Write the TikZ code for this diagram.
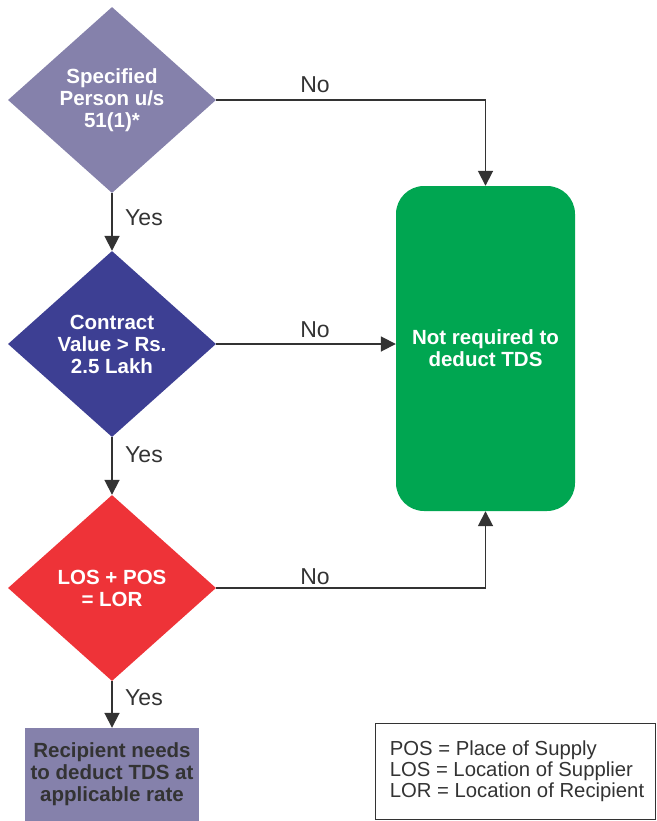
\documentclass[tikz,border=0pt]{standalone}
\usepackage{fontspec}
\setmainfont{Liberation Sans}
\usetikzlibrary{shapes.geometric,arrows.meta}
\definecolor{lav}{HTML}{8581AB}
\definecolor{navy}{HTML}{3D3F93}
\definecolor{redd}{HTML}{EE3338}
\definecolor{grn}{HTML}{00A651}
\definecolor{ink}{HTML}{333333}
\begin{document}
\begin{tikzpicture}[x=1pt,y=-1pt,
  decision/.style={diamond, aspect=1.118, minimum width=208pt, minimum height=186pt,
    inner sep=0pt, text=white, align=center,
    font=\fontsize{20.5}{22}\selectfont\bfseries},
  endbox/.style={inner sep=0pt, align=center, font=\fontsize{20.5}{22}\selectfont\bfseries},
  flow/.style={draw=ink, line width=1.8pt, -{Triangle[width=15pt,length=15pt]}},
  lbl/.style={font=\fontsize{23}{25}\selectfont, text=ink, inner sep=0pt}]
\useasboundingbox (0,0) rectangle (656,821);

% decisions
\node[decision, fill=lav]  (d1) at (112,100) {Specified\\Person u/s\\51(1)*};
\node[decision, fill=navy] (d2) at (112,344) {Contract\\Value > Rs.\\2.5 Lakh};
\node[decision, fill=redd] (d3) at (112,588) {LOS + POS\\= LOR};

% outcomes
\node[endbox, fill=grn, text=white, rounded corners=28pt,
      minimum width=179pt, minimum height=325pt] (nr) at (485.5,348.5)
      {Not required to\\deduct TDS};
\node[endbox, fill=lav, text=ink, minimum width=174pt, minimum height=93pt]
      (rc) at (112,774.5) {Recipient needs\\to deduct TDS at\\applicable rate};

% legend
\node[draw=ink, line width=0.9pt, minimum width=280pt, minimum height=96pt] (lg) at (515,771) {};
\node[anchor=west, align=left, inner sep=0pt, text=ink,
      font=\fontsize{20.3}{21}\selectfont] (lgt) at ([xshift=15pt]lg.west)
      {POS = Place of Supply\\LOS = Location of Supplier\\LOR = Location of Recipient};

% connectors
\draw[flow] (d1.east) -| (nr.north);
\draw[flow] (d2.east) -- (d2.east -| nr.west);
\draw[flow] (d3.east) -| (nr.south);
\draw[flow] (d1.south) -- (d2.north);
\draw[flow] (d2.south) -- (d3.north);
\draw[flow] (d3.south) -- (rc.north);

% labels
\node[lbl] (no1) at (315,85) {No};
\node[lbl] (no2) at (315,330) {No};
\node[lbl] (no3) at (315,577) {No};
\node[lbl] (y1) at (144,218) {Yes};
\node[lbl] (y2) at (144,455) {Yes};
\node[lbl] (y3) at (144,698) {Yes};
\end{tikzpicture}
\end{document}
